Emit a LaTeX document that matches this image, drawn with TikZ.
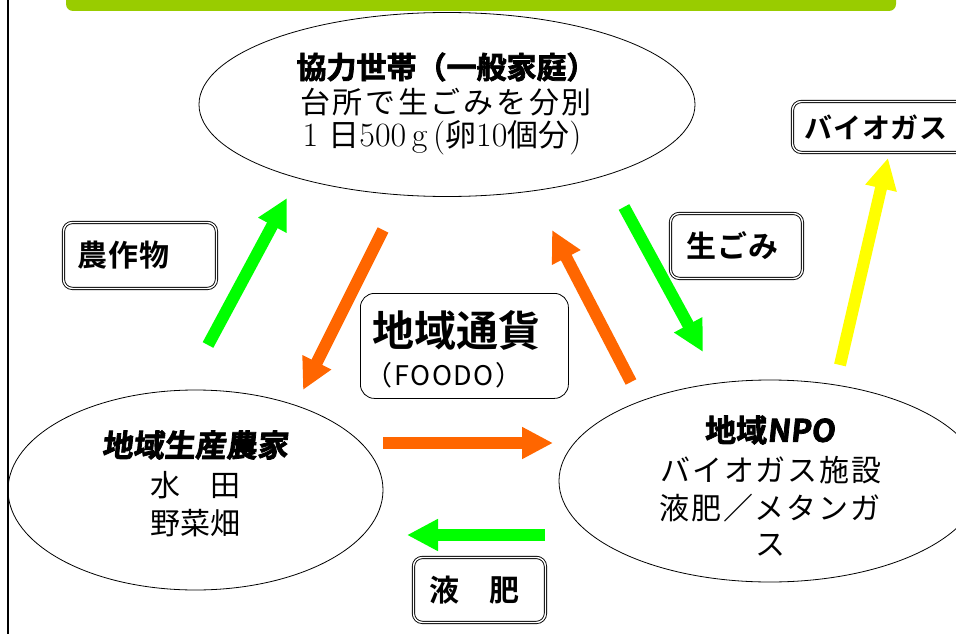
\documentclass[tikz,border=0pt]{standalone}
\usepackage{fontspec}
\usetikzlibrary{shapes.geometric,arrows.meta}
\newfontfamily\jp{Noto Sans CJK JP}
\newfontfamily\jpb{Noto Sans CJK JP Bold}[FakeBold=2.5]
\newfontfamily\jpm{Noto Sans CJK JP Bold}
\newfontfamily\jpbs{Noto Sans CJK JP Bold}[FakeSlant=0.1,FakeBold=2.5]
\newcommand\fsz[1]{\fontsize{#1}{#1}\selectfont}
\newcommand\lsp[1]{\addfontfeature{LetterSpace=#1}}
\definecolor{bargreen}{HTML}{99CC00}
\definecolor{lime}{HTML}{00FF00}
\definecolor{orng}{HTML}{FF6600}
\definecolor{yel}{HTML}{FFFF00}
\begin{document}
\begin{tikzpicture}[x=1pt,y=-1pt,
  lbl/.style={draw, double, double distance=1.4pt, line width=0.9pt, rounded corners=9pt,
    fill=white, anchor=north west, inner ysep=0pt, align=left},
  oval/.style={ellipse, draw, line width=0.8pt, inner sep=0pt},
  arr/.style={line width=12pt, -{Triangle[length=31pt,width=30pt]}},
  txt/.style={inner sep=0pt}]
\useasboundingbox (0,0) rectangle (956,634);
\clip (0,0) rectangle (956,634);
\fill[white] (0,0) rectangle (956,634);
% top bar and left rule
\fill[bargreen, rounded corners=7pt] (66,-20) rectangle (896,11);
\draw[line width=2pt] (8,-5) -- (8,640);

% ellipses
\node[oval, minimum width=496pt, minimum height=184pt] (home) at (447,104.5) {};
\node[oval, minimum width=375pt, minimum height=200pt] (farm) at (195.5,490) {};
\node[oval, minimum width=422pt, minimum height=202pt] (npo) at (770,481) {};

% ellipse texts
\node[txt] (home1) at (446.5,67) {\jpb\fsz{30}協力世帯（一般家庭）};
\node[txt] (home2) at (446,102) {\jp\fsz{30}\lsp{9}台所で生ごみを分別};
\node[txt] (home3) at (442,138) {\fsz{34}1 {\jp\fsz{31}日}500\,g\,({\jp\fsz{31}卵}10{\jp\fsz{31}個分})};

\node[txt] (farm1) at (195,445) {\jpbs\fsz{31}地域生産農家};
\node[txt] (farm2) at (195,485) {\jp\fsz{30}水　田};
\node[txt] (farm3) at (195,523) {\jp\fsz{30}野菜畑};

\node[txt] (npo1) at (770,430) {\jpb\fsz{31}地域{\jpbs NPO}};
\node[txt] (npo2) at (771,470) {\jp\fsz{30}\lsp{6}バイオガス施設};
\node[txt] (npo3) at (770,508) {\jp\fsz{30}\lsp{6}液肥／メタンガ};
\node[txt] (npo4) at (770,545) {\jp\fsz{30}ス};

% currency box
\node[draw, rounded corners=14pt, line width=0.8pt, minimum width=208pt, minimum height=105pt,
  anchor=north west] (cur) at (360,293) {};
\node[txt] (cur1) at (456,330) {\jpm\fsz{42}地域通貨};
\node[txt] (cur2) at (444,375) {\jp\fsz{27}\lsp{6}（FOODO）};

% label boxes
\node[lbl, minimum height=66pt, text width=125pt, inner xsep=14pt] (crop) at (63,222) {\jpm\fsz{30}\lsp{3}農作物};
\node[lbl, minimum height=65pt, text width=100pt, inner xsep=16pt] (gomi) at (670,213) {\jpm\fsz{30}\lsp{3}生ごみ};
\node[lbl, minimum height=65pt, text width=100pt, inner xsep=16pt] (ekihi) at (413,557) {\jpm\fsz{30}液　肥};
\node[lbl, minimum height=51pt, text width=149pt, inner xsep=12pt] (gas) at (792,101) {\jpm\fsz{28}\lsp{3}バイオガス};

% arrow end points
\coordinate (g1s) at (208,345); \coordinate (g1e) at (287,198);
\coordinate (o1s) at (383,230); \coordinate (o1e) at (303,390);
\coordinate (o2s) at (631,382); \coordinate (o2e) at (552,230);
\coordinate (g2s) at (624,207); \coordinate (g2e) at (703,352);
\coordinate (y1s) at (840,365); \coordinate (y1e) at (888,158);
\coordinate (o3s) at (383,443); \coordinate (o3e) at (553,443);
\coordinate (g3s) at (545,535); \coordinate (g3e) at (407,535);

\draw[arr, lime] (g1s) -- (g1e);
\draw[arr, orng] (o1s) -- (o1e);
\draw[arr, orng] (o2s) -- (o2e);
\draw[arr, lime] (g2s) -- (g2e);
\draw[arr, yel] (y1s) -- (y1e);
\draw[arr, orng] (o3s) -- (o3e);
\draw[arr, lime] (g3s) -- (g3e);
\end{tikzpicture}
\end{document}
